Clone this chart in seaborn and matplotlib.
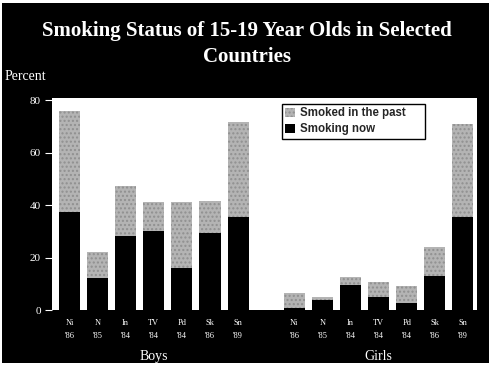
import matplotlib
matplotlib.use("Agg")
import matplotlib.pyplot as plt
from matplotlib.patches import Rectangle
import seaborn as sns
import pandas as pd

# Country / survey-year labels (same set for both sexes)
countries = ["Ni\n'86", "N\n'85", "In\n'84", "TV\n'84", "Pd\n'84", "Sk\n'86", "Sn\n'89"]
groups = ["Boys", "Girls"]

# Percent of 15-19 year olds
boys_now = [37.3, 12.2, 28.2, 30.0, 16.0, 29.3, 35.4]
boys_ever = [76.0, 22.0, 47.2, 41.1, 41.0, 41.5, 71.6]      # now + smoked in the past
girls_now = [0.8, 3.8, 9.5, 5.0, 2.7, 13.0, 35.4]
girls_ever = [6.5, 5.0, 12.6, 10.7, 9.1, 24.0, 71.0]

rows = []
for g, now, ever in [("Boys", boys_now, boys_ever), ("Girls", girls_now, girls_ever)]:
    for c, n, e in zip(countries, now, ever):
        rows.append({"slot": f"{g}|{c}", "group": g, "country": c, "now": n, "ever": e})
df = pd.DataFrame(rows)

gap = "gap"
order = [f"Boys|{c}" for c in countries] + [gap] + [f"Girls|{c}" for c in countries]

sns.set_theme(style="white")
plt.rcParams["font.family"] = ["Liberation Serif", "DejaVu Serif"]

fig = plt.figure(figsize=(4.91, 3.67), dpi=100, facecolor="white")
fig.patches.append(Rectangle((2 / 491, 1 - 363 / 367), 487 / 491, 360 / 367,
                             transform=fig.transFigure, facecolor="black",
                             edgecolor="none", zorder=-10))
ax = fig.add_axes([52 / 491, 1 - 310 / 367, 425 / 491, 212 / 367])
ax.set_facecolor("white")

sns.barplot(data=df, x="slot", y="ever", order=order, color="#b4b4b4",
            width=0.75, saturation=1, errorbar=None, ax=ax,
            label="Smoked in the past", hatch="....", edgecolor="#909090", linewidth=0)
sns.barplot(data=df, x="slot", y="now", order=order, color="black",
            width=0.75, saturation=1, errorbar=None, ax=ax,
            label="Smoking now", linewidth=0)

ax.set_ylim(0, 80.8)
ax.set_xlim(-0.62, 14.5)
ax.set_yticks([0, 20, 40, 60, 80])
ax.set_yticklabels(["0", "20", "40", "60", "80"], color="white", fontsize=8)
ax.tick_params(axis="y", colors="white", length=5, width=0.8, pad=3, labelcolor="white",
               left=True)
ax.tick_params(axis="x", length=0, pad=6.5)
ax.set_xticks(range(len(order)))
ax.set_xticklabels([s.split("|")[1] if s != gap else "" for s in order],
                   color="white", fontsize=6, linespacing=1.9)
ax.set_xlabel("")
ax.set_ylabel("")
for s in ax.spines.values():
    s.set_visible(False)

# group names under the bars
ax.text(3, -0.217, "Boys", transform=ax.get_xaxis_transform(), ha="center", va="center",
        color="white", fontsize=10)
ax.text(11, -0.217, "Girls", transform=ax.get_xaxis_transform(), ha="center", va="center",
        color="white", fontsize=10)

leg = ax.legend(loc="upper left", bbox_to_anchor=(0.541, 0.816, 0.337, 0.156),
                mode="expand", frameon=True,
                fancybox=False, edgecolor="black", framealpha=1,
                prop={"family": "Liberation Sans", "weight": "bold", "size": 8.3},
                handlelength=0.8, handleheight=0.8, handletextpad=0.5,
                borderpad=0.3, labelspacing=0.35, borderaxespad=0)
leg.get_frame().set_linewidth(1.0)

fig.text(0.503, 1 - 44 / 367, "Smoking Status of 15-19 Year Olds in Selected\nCountries",
         ha="center", va="center", color="white", fontsize=15, fontweight="bold",
         linespacing=1.35)
fig.text(5 / 491, 1 - 76 / 367, "Percent", ha="left", va="center", color="white",
         fontsize=10)

fig.savefig("out.png", dpi=100, facecolor="white")
